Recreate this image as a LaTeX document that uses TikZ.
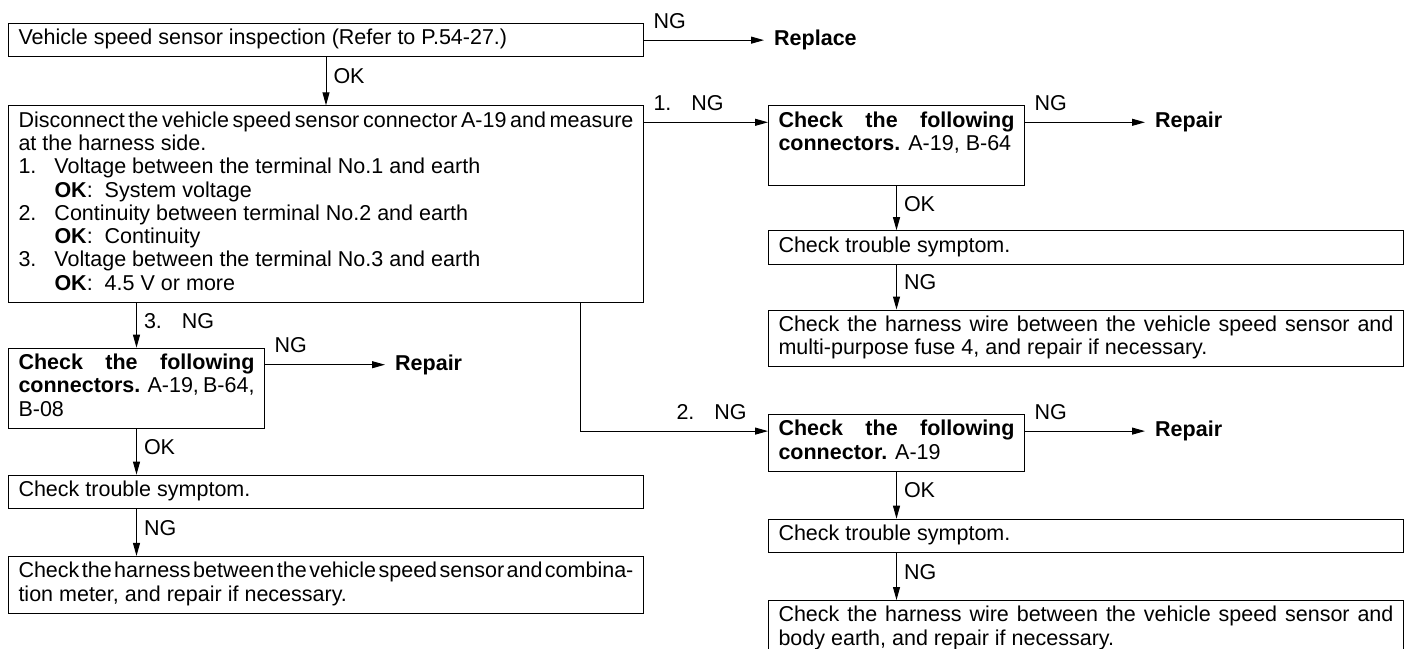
\documentclass[tikz,border=0pt]{standalone}
\usepackage{fontspec}
\setmainfont{Liberation Sans}
\usetikzlibrary{positioning,arrows.meta}
\newcommand{\chartfont}{\fontsize{21.5pt}{23.3pt}\selectfont\spaceskip=0.28em plus 0.3em minus 0.2em}
\tikzset{
  stepbox/.style={rectangle,draw,line width=1pt,align=justify,text width=615pt,inner xsep=10pt,inner ysep=5pt,font=\chartfont,execute at begin node=\strut,execute at end node=\strut},
  conbox/.style={stepbox,text width=236pt},
  result/.style={font=\chartfont\bfseries,inner xsep=10pt},
  lab/.style={font=\chartfont,inner sep=2pt},
  arrow/.style={-{Triangle[length=13pt,width=7pt]},line width=1pt}
}
\begin{document}
\begin{tikzpicture}[x=1pt,y=1pt]
\useasboundingbox (0,0) rectangle (1408,-648);

\node[stepbox, anchor=north west] (insp) at (8,-23) {Vehicle speed sensor inspection (Refer to P.54-27.)};
\node[stepbox, below=48pt of insp] (meas) {Disconnect the vehicle speed sensor connector A-19 and measure\linebreak at the harness side.\\
\makebox[36pt][l]{1.}Voltage between the terminal No.1 and earth\\
\hspace*{36pt}\textbf{OK}:\hspace{12pt}System voltage\\
\makebox[36pt][l]{2.}Continuity between terminal No.2 and earth\\
\hspace*{36pt}\textbf{OK}:\hspace{12pt}Continuity\\
\makebox[36pt][l]{3.}Voltage between the terminal No.3 and earth\\
\hspace*{36pt}\textbf{OK}:\hspace{12pt}4.5 V or more};
\node[result, right=120pt of insp] (replace) {Replace};

\node[conbox, below=45pt of meas.south west, anchor=north west] (conA) {\textbf{Check the following connectors.} A-19, B-64, B-08};
\node[stepbox, below=46pt of conA.south west, anchor=north west] (symA) {Check trouble symptom.};
\node[stepbox, below=47pt of symA] (harnA) {Check the harness between the vehicle speed sensor and combina-\linebreak tion meter, and repair if necessary.};
\node[result, right=120pt of conA.north east, yshift=-17pt] (repA) {Repair};

\node[conbox, right=124pt of meas.north east, anchor=north west] (conB) {\textbf{Check the following connectors.} A-19, B-64\\};
\node[stepbox, below=44pt of conB.south west, anchor=north west] (symB) {Check trouble symptom.};
\node[stepbox, below=45pt of symB] (harnB) {Check the harness wire between the vehicle speed sensor and\linebreak multi-purpose fuse 4, and repair if necessary.};
\node[result, right=120pt of conB.north east, yshift=-17pt] (repB) {Repair};

\node[conbox, below=47pt of harnB.south west, anchor=north west] (conC) {\textbf{Check the following connector.} A-19};
\node[stepbox, below=47pt of conC.south west, anchor=north west] (symC) {Check trouble symptom.};
\node[stepbox, below=47pt of symC] (harnC) {Check the harness wire between the vehicle speed sensor and\linebreak body earth, and repair if necessary.};
\node[result, right=120pt of conC.north east, yshift=-17pt] (repC) {Repair};

\draw[arrow] (insp) -- (replace) node[lab, pos=0, above right=9pt and 7pt] {NG};
\draw[arrow] (insp) -- (meas) node[lab, pos=0.4, right=5pt] {OK};

\draw[arrow] (meas.south -| conA) -- (conA) node[lab, pos=0.4, right=5pt] {3.\hspace{20pt}NG};
\draw[arrow] ([yshift=-17pt]conA.north east) -- (repA) node[lab, pos=0, above right=9pt and 7pt] {NG};
\draw[arrow] (conA) -- (conA |- symA.north) node[lab, pos=0.4, right=5pt] {OK};
\draw[arrow] (symA.south -| conA) -- (harnA.north -| conA) node[lab, pos=0.4, right=5pt] {NG};

\draw[arrow] ([yshift=-17pt]meas.north east) -- ([yshift=-17pt]conB.north west) node[lab, pos=0, above right=9pt and 7pt] {1.\hspace{20pt}NG};
\draw[arrow] ([yshift=-17pt]conB.north east) -- (repB) node[lab, pos=0, above right=9pt and 7pt] {NG};
\draw[arrow] (conB) -- (conB |- symB.north) node[lab, pos=0.4, right=5pt] {OK};
\draw[arrow] (symB.south -| conB) -- (harnB.north -| conB) node[lab, pos=0.4, right=5pt] {NG};

\draw[arrow] ([xshift=-64pt]meas.south east) |- ([yshift=-17pt]conC.north west) node[lab, pos=0.85, above=9pt] {2.\hspace{20pt}NG};
\draw[arrow] ([yshift=-17pt]conC.north east) -- (repC) node[lab, pos=0, above right=9pt and 7pt] {NG};
\draw[arrow] (conC) -- (conC |- symC.north) node[lab, pos=0.4, right=5pt] {OK};
\draw[arrow] (symC.south -| conC) -- (harnC.north -| conC) node[lab, pos=0.4, right=5pt] {NG};
\end{tikzpicture}
\end{document}
